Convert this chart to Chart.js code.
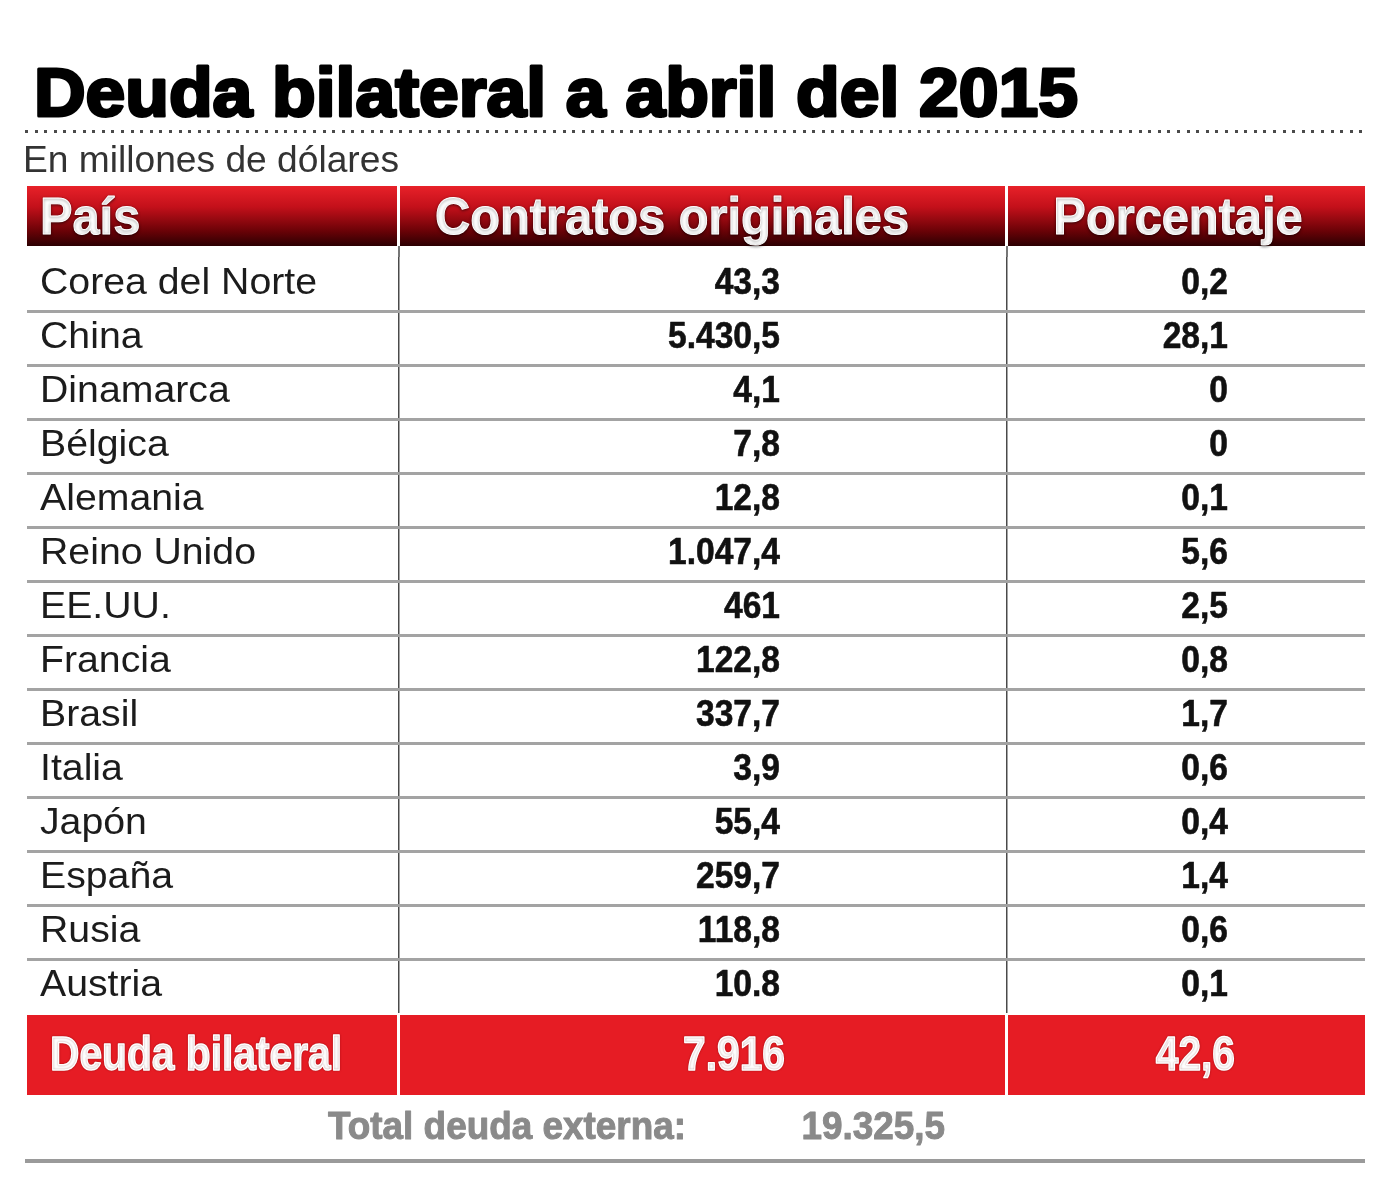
<!DOCTYPE html>
<html>
<head>
<meta charset="utf-8">
<title>Deuda bilateral a abril del 2015</title>
<script src="https://cdn.jsdelivr.net/npm/chart.js@4.4.1/dist/chart.umd.min.js"></script>
<style>
    html, body { margin: 0; padding: 0; background: #ffffff; }
    #wrap { width: 1400px; height: 1200px; }
</style>
</head>
<body>
<div id="wrap"><canvas id="tabla" width="1400" height="1200"></canvas></div>
<script>
// DATA

const titulo = "Deuda bilateral a abril del 2015";
const subtitulo = "En millones de dólares";

const encabezados = ["País", "Contratos originales", "Porcentaje"];

const paises = [
    "Corea del Norte", "China", "Dinamarca", "Bélgica", "Alemania",
    "Reino Unido", "EE.UU.", "Francia", "Brasil", "Italia",
    "Japón", "España", "Rusia", "Austria"
];

const contratos = [
    "43,3", "5.430,5", "4,1", "7,8", "12,8",
    "1.047,4", "461", "122,8", "337,7", "3,9",
    "55,4", "259,7", "118,8", "10.8"
];

const porcentajes = [
    "0,2", "28,1", "0", "0", "0,1",
    "5,6", "2,5", "0,8", "1,7", "0,6",
    "0,4", "1,4", "0,6", "0,1"
];

const filaTotal = ["Deuda bilateral", "7.916", "42,6"];
const deudaExterna = ["Total deuda externa:", "19.325,5"];

// LAYOUT

const TABLA_IZQ = 27;
const TABLA_DER = 1365;
const CUERPO_TOP = 257;
const CUERPO_BOTTOM = 1013;
const CORTES = [372, 980];   // column borders, measured from table left

const F_TITULO = 'bold 68px "Liberation Sans", Arial, sans-serif';
const F_SUB = '37px "Liberation Sans Narrow", "Liberation Sans", Arial, sans-serif';
const F_HEAD = 'bold 52px "Liberation Sans Narrow", "Liberation Sans", Arial, sans-serif';
const F_PAIS = '37px "Liberation Sans", Arial, sans-serif';
const F_NUM = 'bold 36px "Liberation Sans Narrow", "Liberation Sans", Arial, sans-serif';
const F_TOTAL = 'bold 48px "Liberation Sans Narrow", "Liberation Sans", Arial, sans-serif';
const F_PIE = 'bold 39px "Liberation Sans Narrow", "Liberation Sans", Arial, sans-serif';

function escalaPara(ctx, fuente, muestra, ancho)
{
    ctx.font = fuente;
    return ancho / ctx.measureText(muestra).width;
}

function texto(ctx, t, x, y, fuente, escala, alinear, trazo)
{
    ctx.save();
    ctx.font = fuente;
    ctx.textAlign = "left";
    ctx.textBaseline = "alphabetic";
    const w = ctx.measureText(t).width * escala;
    let x0 = x;
    if (alinear === "right") x0 = x - w;
    if (alinear === "center") x0 = x - w / 2;
    ctx.translate(x0, y);
    ctx.scale(escala, 1);
    ctx.fillText(t, 0, 0);
    if (trazo)
    {
        ctx.strokeStyle = ctx.fillStyle;
        ctx.lineWidth = trazo;
        ctx.lineJoin = "round";
        ctx.strokeText(t, 0, 0);
    }
    ctx.restore();
}

const tablaPlugin = {

    id: "tabla",

    beforeDraw(chart)
    {
        const ctx = chart.ctx;
        const a = chart.chartArea;
        const x = chart.scales.x;

        const e1 = x.getPixelForValue(CORTES[0]);
        const e2 = x.getPixelForValue(CORTES[1]);

        ctx.save();

        ctx.fillStyle = "#ffffff";
        ctx.fillRect(0, 0, chart.width, chart.height);

        // TITLE
        ctx.fillStyle = "#000000";
        const sT = escalaPara(ctx, F_TITULO, titulo, 1044);
        texto(ctx, titulo, 34, 116, F_TITULO, sT, "left", 3);

        // DOTTED RULE
        ctx.fillStyle = "#4a4a4a";
        for (let d = 25; d < 1368; d += 9.6)
        {
            ctx.fillRect(Math.round(d), 130, 3, 3);
        }

        // SUBTITLE
        ctx.fillStyle = "#333333";
        const sS = escalaPara(ctx, F_SUB, subtitulo, 376);
        texto(ctx, subtitulo, 23, 172, F_SUB, sS, "left");

        // HEADER
        const hTop = 186;
        const hBot = 246;
        const grad = ctx.createLinearGradient(0, hTop, 0, hBot);
        grad.addColorStop(0, "#e82129");
        grad.addColorStop(0.35, "#c3101a");
        grad.addColorStop(0.75, "#6a0207");
        grad.addColorStop(1, "#2c0002");
        ctx.fillStyle = grad;
        ctx.fillRect(a.left, hTop, e1 - 2 - a.left, hBot - hTop);
        ctx.fillRect(e1 + 1, hTop, e2 - 2 - (e1 + 1), hBot - hTop);
        ctx.fillRect(e2 + 1, hTop, TABLA_DER - (e2 + 1), hBot - hTop);

        ctx.fillStyle = "#ffffff";
        ctx.shadowColor = "rgba(0,0,0,0.55)";
        ctx.shadowBlur = 3;
        ctx.shadowOffsetY = 1;
        const sH = escalaPara(ctx, F_HEAD, encabezados[1], 474);
        texto(ctx, encabezados[0], 40, 234, F_HEAD, sH, "left", 1);
        texto(ctx, encabezados[1], 672, 234, F_HEAD, sH, "center", 1);
        texto(ctx, encabezados[2], 1178, 234, F_HEAD, sH, "center", 1);
        ctx.shadowColor = "rgba(0,0,0,0)";
        ctx.shadowBlur = 0;
        ctx.shadowOffsetY = 0;

        // TOTAL ROW
        const tTop = 1015;
        const tBot = 1095;
        ctx.fillStyle = "#e61c24";
        ctx.fillRect(a.left, tTop, e1 - 2 - a.left, tBot - tTop);
        ctx.fillRect(e1 + 1, tTop, e2 - 2 - (e1 + 1), tBot - tTop);
        ctx.fillRect(e2 + 1, tTop, TABLA_DER - (e2 + 1), tBot - tTop);

        // BOTTOM RULE
        ctx.fillStyle = "#9a9a9a";
        ctx.fillRect(25, 1159, TABLA_DER - 25, 4);

        ctx.restore();
    },

    afterDraw(chart)
    {
        const ctx = chart.ctx;
        const x = chart.scales.x;
        const y = chart.scales.y;

        const e1 = x.getPixelForValue(CORTES[0]);
        const e2 = x.getPixelForValue(CORTES[1]);

        ctx.save();

        // column lines between header and first row
        ctx.strokeStyle = "#4a4a4a";
        ctx.lineWidth = 1.5;
        [e1, e2].forEach(e =>
        {
            ctx.beginPath();
            ctx.moveTo(e, 246);
            ctx.lineTo(e, CUERPO_TOP);
            ctx.stroke();
        });

        const sP = escalaPara(ctx, F_PAIS, paises[0], 277);
        const sN = escalaPara(ctx, F_NUM, contratos[1], 112);

        paises.forEach((p, i) =>
        {
            const base = y.getPixelForValue(i) + 10;

            ctx.fillStyle = "#1c1c1c";
            texto(ctx, p, 40, base, F_PAIS, sP, "left");

            ctx.fillStyle = "#111111";
            texto(ctx, contratos[i], 780, base, F_NUM, sN, "right", 0.6);
            texto(ctx, porcentajes[i], 1228, base, F_NUM, sN, "right", 0.6);
        });

        // total row text
        ctx.fillStyle = "#ffffff";
        ctx.shadowColor = "rgba(90,0,0,0.45)";
        ctx.shadowBlur = 2;
        const sTot = escalaPara(ctx, F_TOTAL, filaTotal[0], 292);
        texto(ctx, filaTotal[0], 50, 1070, F_TOTAL, sTot, "left", 1.5);
        texto(ctx, filaTotal[1], 785, 1070, F_TOTAL, sTot, "right", 1.5);
        texto(ctx, filaTotal[2], 1235, 1070, F_TOTAL, sTot, "right", 1.5);
        ctx.shadowColor = "rgba(0,0,0,0)";
        ctx.shadowBlur = 0;

        // external debt line
        ctx.fillStyle = "#8a8a8a";
        const sPie = escalaPara(ctx, F_PIE, deudaExterna[0], 358);
        texto(ctx, deudaExterna[0], 328, 1139, F_PIE, sPie, "left", 1);
        texto(ctx, deudaExterna[1], 945, 1139, F_PIE, sPie, "right", 1);

        ctx.restore();
    }
};

document.addEventListener("DOMContentLoaded", () =>
{
    const ctx =
        document
            .getElementById("tabla")
            .getContext("2d");

    new Chart(ctx, {

        type: "bar",

        data: {
            labels: paises,
            datasets: []
        },

        options: {

            responsive: false,
            animation: false,
            devicePixelRatio: 1,
            indexAxis: "y",

            layout: {
                padding: {
                    left: TABLA_IZQ,
                    right: 1400 - TABLA_DER,
                    top: CUERPO_TOP,
                    bottom: 1200 - CUERPO_BOTTOM
                }
            },

            scales: {

                x: {
                    type: "linear",
                    min: 0,
                    max: TABLA_DER - TABLA_IZQ,
                    afterBuildTicks: s =>
                    {
                        s.ticks = CORTES.map(v => ({ value: v }));
                    },
                    ticks: { display: false },
                    border: { display: false },
                    grid: {
                        color: "#4a4a4a",
                        lineWidth: 1.5,
                        drawTicks: false
                    }
                },

                y: {
                    type: "category",
                    ticks: { display: false },
                    border: { display: false },
                    grid: {
                        offset: true,
                        drawTicks: false,
                        lineWidth: 3,
                        color: c =>
                            (c.index === 0 || c.index === undefined)
                                ? "rgba(0,0,0,0)"
                                : "#a3a3a3"
                    }
                }
            },

            plugins: {
                legend: { display: false },
                tooltip: { enabled: false }
            }
        },

        plugins: [tablaPlugin]
    });
});
</script>
</body>
</html>
